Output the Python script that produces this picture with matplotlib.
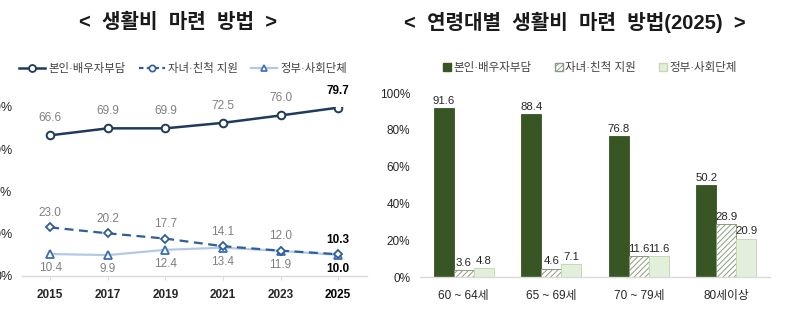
import matplotlib
matplotlib.use("Agg")
import matplotlib.pyplot as plt
from matplotlib.lines import Line2D
from matplotlib.patches import Patch

FONT = ['Liberation Sans', 'Noto Sans CJK KR', 'DejaVu Sans']
plt.rcParams['font.family'] = FONT
plt.rcParams['hatch.linewidth'] = 0.7

# ---- data ----
years = ['2015', '2017', '2019', '2021', '2023', '2025']
self_spouse = [66.6, 69.9, 69.9, 72.5, 76.0, 79.7]
children = [23.0, 20.2, 17.7, 14.1, 12.0, 10.3]
government = [10.4, 9.9, 12.4, 13.4, 11.9, 10.0]
series_names = ['본인·배우자부담', '자녀·친척 지원', '정부·사회단체']

age_groups = ['60 ~ 64세', '65 ~ 69세', '70 ~ 79세', '80세이상']
age_self = [91.6, 88.4, 76.8, 50.2]
age_children = [3.6, 4.6, 11.6, 28.9]
age_gov = [4.8, 7.1, 11.6, 20.9]

left_title = '<  생활비  마련  방법  >'
right_title = '<  연령대별  생활비  마련  방법(2025)  >'

W, H = 800, 334
fig = plt.figure(figsize=(8, 3.34), dpi=100)

def px(x0, y_top, x1, y_bot):
    return [x0 / W, 1 - y_bot / H, (x1 - x0) / W, (y_bot - y_top) / H]

# ---------------- left line chart ----------------
ax = fig.add_axes(px(22, 107, 367, 276))
x = list(range(len(years)))
navy = '#1F3A5C'
blue = '#2F5F95'
light = '#B4C8E4'
tri_edge = '#3A6DB5'
ax.plot(x, self_spouse, color=navy, lw=1.8, marker='o', ms=5.5,
        mfc='white', mec=navy, mew=1.4, zorder=3)
ax.plot(x, children, color=blue, lw=1.6, ls=(0, (4, 2.5)), marker='D', ms=4.2,
        mfc='white', mec=blue, mew=1.3, zorder=3)
ax.plot(x, government, color=light, lw=1.6, marker='^', ms=5.5,
        mfc='white', mec=tri_edge, mew=1.3, zorder=2)
ax.set_xlim(-0.49, 5.5)
ax.set_ylim(0, 80)
ax.set_yticks([0, 20, 40, 60, 80])
ax.set_yticklabels(['0%', '20%', '40%', '60%', '80%'], fontsize=9, color='#262626')
ax.tick_params(axis='y', length=0, pad=7)
ax.set_xticks(x)
ax.set_xticklabels(years, fontsize=8.5, fontweight='bold', color='#262626')
ax.get_xticklabels()[-1].set_color('black')
ax.tick_params(axis='x', length=3, color='#D9D9D9', pad=6)
for s in ['top', 'right', 'left']:
    ax.spines[s].set_visible(False)
ax.spines['bottom'].set_color('#D9D9D9')
ax.spines['bottom'].set_linewidth(1.0)

last = len(years) - 1
for i in x:
    bold = i == last
    kw = dict(fontsize=8.5, ha='center',
              color='#808080' if not bold else 'black',
              fontweight='bold' if bold else 'normal', clip_on=False)
    ax.annotate(f'{self_spouse[i]:.1f}', (i, self_spouse[i]), xytext=(0, 8),
                textcoords='offset points', va='bottom', **kw)
    ax.annotate(f'{children[i]:.1f}', (i, children[i]), xytext=(0, 6),
                textcoords='offset points', va='bottom', **kw)
    ax.annotate(f'{government[i]:.1f}', (i, government[i]), xytext=(0, -6),
                textcoords='offset points', va='top', **kw)

handles = [
    Line2D([], [], color=navy, lw=1.8, marker='o', ms=5, mfc='white', mec=navy, mew=1.3),
    Line2D([], [], color=blue, lw=1.6, ls=(0, (2, 1.5)), marker='o', ms=4.5, mfc='white', mec=blue, mew=1.2),
    Line2D([], [], color=light, lw=1.6, marker='^', ms=5, mfc='white', mec=tri_edge, mew=1.2),
]
fig.legend(handles, series_names, loc='center', bbox_to_anchor=(183 / W, 1 - 68 / H),
           ncol=3, frameon=False, fontsize=8.2, handlelength=2.3, columnspacing=1.1,
           handletextpad=0.3, labelcolor='#404040')

fig.text(178 / W, 1 - 22 / H, left_title, ha='center', va='center',
         fontsize=14.5, fontweight='bold', color='#1a1a1a')

# ---------------- right bar chart ----------------
bx = fig.add_axes(px(420, 93, 770, 277))
w = 0.228
xs = list(range(len(age_groups)))
b1 = bx.bar([i - w for i in xs], age_self, width=w, color='#375623', edgecolor='#375623', lw=0.6)
b2 = bx.bar(xs, age_children, width=w, color='white', edgecolor='#8C9A80', hatch='//////', lw=0.7)
b3 = bx.bar([i + w for i in xs], age_gov, width=w, color='#E2EFDA', edgecolor='#C5D9B4', lw=0.7)
bx.set_xlim(-0.5, 3.5)
bx.set_ylim(0, 100)
bx.set_yticks([0, 20, 40, 60, 80, 100])
bx.set_yticklabels(['0%', '20%', '40%', '60%', '80%', '100%'], fontsize=8.5, color='#262626')
bx.tick_params(axis='y', length=0, pad=7)
bx.set_xticks(xs)
bx.set_xticklabels(age_groups, fontsize=8.5, color='#262626')
bx.tick_params(axis='x', length=0, pad=9)
for s in ['top', 'right', 'left']:
    bx.spines[s].set_visible(False)
bx.spines['bottom'].set_color('#D9D9D9')
bx.spines['bottom'].set_linewidth(1.0)
for bars, vals in [(b1, age_self), (b2, age_children), (b3, age_gov)]:
    for r, v in zip(bars, vals):
        bx.annotate(f'{v:.1f}', (r.get_x() + r.get_width() / 2, v), xytext=(0, 1.5),
                    textcoords='offset points', ha='center', va='bottom',
                    fontsize=8.2, color='#262626', clip_on=False)

phandles = [Patch(facecolor='#375623', edgecolor='#375623'),
            Patch(facecolor='white', edgecolor='#8C9A80', hatch='//////'),
            Patch(facecolor='#E2EFDA', edgecolor='#C5D9B4')]
fig.legend(phandles, series_names, loc='center', bbox_to_anchor=(590 / W, 1 - 68 / H),
           ncol=3, frameon=False, fontsize=8.3, handlelength=0.7, handleheight=0.7,
           columnspacing=2.0, handletextpad=0.2, labelcolor='#404040')

fig.text(575 / W, 1 - 22 / H, right_title, ha='center', va='center',
         fontsize=14.5, fontweight='bold', color='#1a1a1a')

fig.savefig('out.png', dpi=100, facecolor='white')
